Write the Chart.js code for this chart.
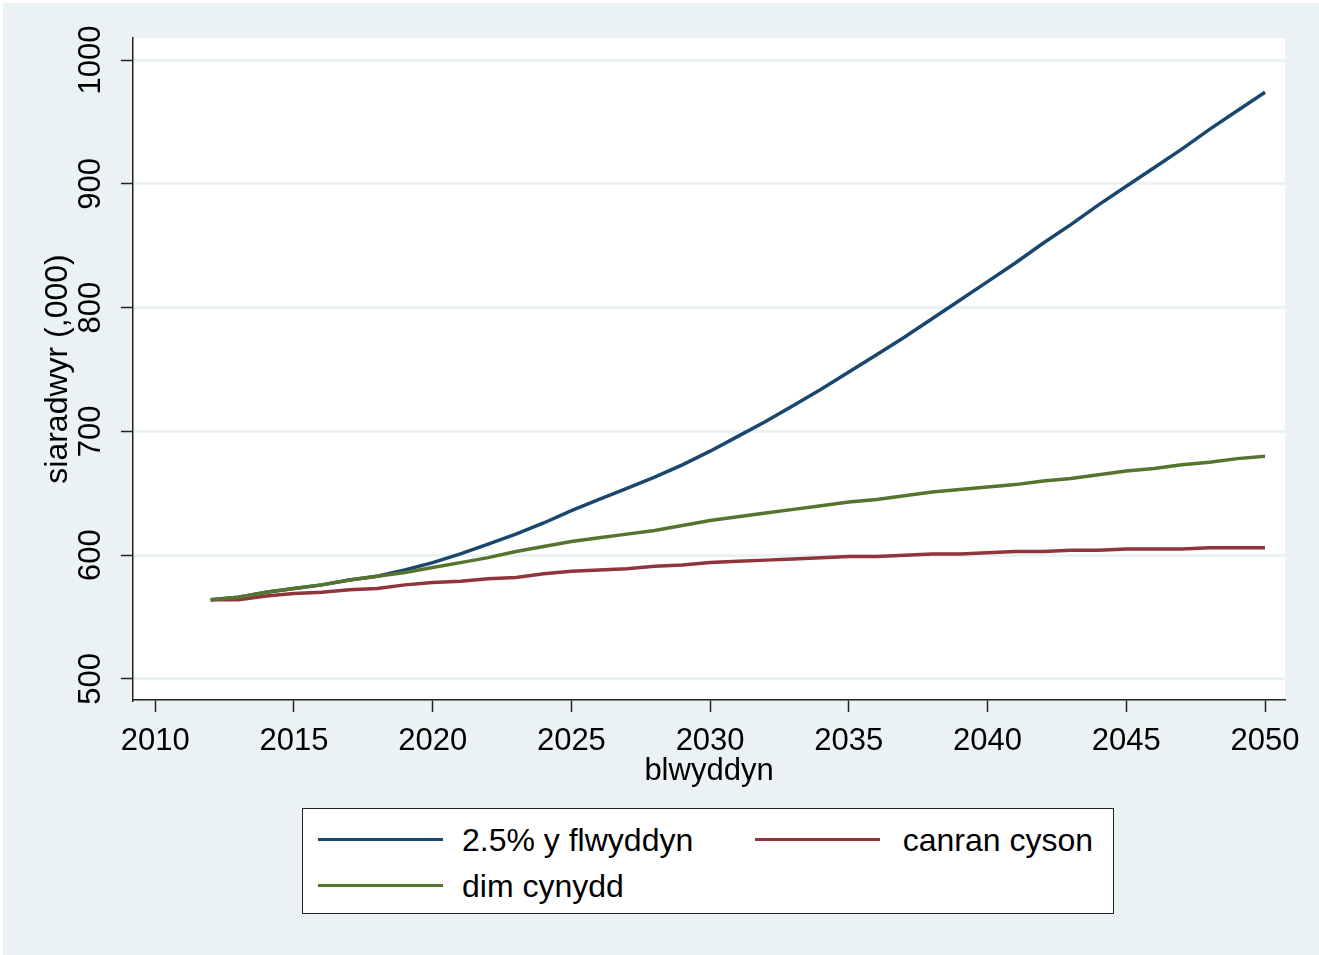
<!DOCTYPE html>
<html>
<head>
<meta charset="utf-8">
<script src="https://cdn.jsdelivr.net/npm/chart.js@4/dist/chart.umd.min.js"></script>
<style>
    html, body { margin: 0; padding: 0; background: #fff; }
    #wrap { position: relative; width: 1319px; height: 955px; }
    #bg { position: absolute; left: 3px; top: 3px; right: 0; bottom: 0; background: #eaf2f3; }
    canvas { position: absolute; left: 0; top: 0; }
    .legend {
        position: absolute; left: 302px; top: 808px; width: 810px; height: 104px;
        background: #fff; border: 1.5px solid #222;
        font-family: "Liberation Sans", Arial, sans-serif; font-size: 32px; color: #000;
    }
    .legend .sw { position: absolute; width: 125px; height: 3px; }
    .legend .lb { position: absolute; line-height: 1; white-space: nowrap; }
</style>
</head>
<body>
<div id="wrap">
    <div id="bg"></div>
    <canvas id="chart" width="1319" height="955"></canvas>
    <div class="legend">
        <div class="sw" style="left:15px; top:29px; background:#1a476f"></div>
        <div class="lb" style="left:159px; top:15px">2.5% y flwyddyn</div>
        <div class="sw" style="left:452px; top:29px; background:#90353b"></div>
        <div class="lb" style="right:20px; top:15px">canran cyson</div>
        <div class="sw" style="left:15px; top:75px; background:#55752f"></div>
        <div class="lb" style="left:159px; top:61px">dim cynydd</div>
    </div>
</div>
<script>
const years = [2012, 2013, 2014, 2015, 2016, 2017, 2018, 2019, 2020, 2021,
    2022, 2023, 2024, 2025, 2026, 2027, 2028, 2029, 2030, 2031,
    2032, 2033, 2034, 2035, 2036, 2037, 2038, 2039, 2040, 2041,
    2042, 2043, 2044, 2045, 2046, 2047, 2048, 2049, 2050];
const growth25 = [564, 566, 570, 573, 576, 580, 583, 588, 594, 601,
    609, 617, 626, 636, 645, 654, 663, 673, 684, 696,
    708, 721, 734, 748, 762, 776, 791, 806, 821, 836,
    852, 867, 883, 898, 913, 928, 944, 959, 974];
const constPct = [564, 564, 567, 569, 570, 572, 573, 576, 578, 579,
    581, 582, 585, 587, 588, 589, 591, 592, 594, 595,
    596, 597, 598, 599, 599, 600, 601, 601, 602, 603,
    603, 604, 604, 605, 605, 605, 606, 606, 606];
const noGrowth = [564, 566, 570, 573, 576, 580, 583, 586, 590, 594,
    598, 603, 607, 611, 614, 617, 620, 624, 628, 631,
    634, 637, 640, 643, 645, 648, 651, 653, 655, 657,
    660, 662, 665, 668, 670, 673, 675, 678, 680];
const xTicks = [2010, 2015, 2020, 2025, 2030, 2035, 2040, 2045, 2050];
const yTicks = [500, 600, 700, 800, 900, 1000];

const FONT = '"Liberation Sans", Arial, sans-serif';
const pts = arr => years.map((y, i) => ({ x: y, y: arr[i] }));

// white plot region + rotated y tick labels (Stata style)
const plotBg = {
    id: 'plotBg',
    beforeDraw(chart) {
        const a = chart.chartArea, ctx = chart.ctx;
        ctx.save();
        ctx.fillStyle = '#fff';
        ctx.fillRect(a.left, a.top, a.right - a.left, a.bottom - a.top);
        ctx.restore();
    },
    afterDraw(chart) {
        const ys = chart.scales.y, ctx = chart.ctx;
        ctx.save();
        ctx.font = '31px ' + FONT;
        ctx.fillStyle = '#000';
        ctx.textAlign = 'center';
        ctx.textBaseline = 'middle';
        yTicks.forEach(v => {
            ctx.save();
            ctx.translate(ys.right - 42, ys.getPixelForValue(v));
            ctx.rotate(-Math.PI / 2);
            ctx.fillText(String(v), 0, 0);
            ctx.restore();
        });
        ctx.restore();
    }
};

new Chart(document.getElementById('chart'), {
    type: 'line',
    data: {
        datasets: [
            { label: '2.5% y flwyddyn', data: pts(growth25), borderColor: '#1a476f', order: 3 },
            { label: 'canran cyson', data: pts(constPct), borderColor: '#90353b', order: 2 },
            { label: 'dim cynydd', data: pts(noGrowth), borderColor: '#55752f', order: 1 }
        ]
    },
    options: {
        responsive: false,
        animation: false,
        events: [],
        layout: { padding: { left: 42, top: 38, right: 34, bottom: 165 } },
        elements: {
            line: { borderWidth: 3.5, tension: 0, fill: false },
            point: { radius: 0 }
        },
        plugins: { legend: { display: false }, tooltip: { enabled: false } },
        scales: {
            x: {
                type: 'linear',
                min: 2009.2, max: 2050.72,
                afterBuildTicks: s => { s.ticks = xTicks.map(v => ({ value: v })); },
                afterFit: s => { s.height = 90; },
                grid: { drawOnChartArea: false, tickLength: 12, tickColor: '#222', tickWidth: 1.5 },
                border: { color: '#222', width: 1.5 },
                ticks: { font: { family: FONT, size: 31 }, color: '#000', padding: 11, maxRotation: 0,
                    callback: v => String(v) },
                title: { display: true, text: 'blwyddyn', font: { family: FONT, size: 31, lineHeight: 1.2 }, color: '#000', padding: 0 }
            },
            y: {
                type: 'linear',
                min: 483, max: 1017.8,
                afterBuildTicks: s => { s.ticks = yTicks.map(v => ({ value: v })); },
                afterFit: s => { s.width = 91; },
                grid: { color: '#eaf2f3', lineWidth: 3, tickLength: 12, tickColor: '#222', tickWidth: 1.5 },
                border: { color: '#222', width: 1.5 },
                ticks: { display: false },
                title: { display: true, text: 'siaradwyr (,000)', font: { family: FONT, size: 32, lineHeight: 1 }, color: '#000', padding: 0 }
            }
        }
    },
    plugins: [plotBg]
});
</script>
</body>
</html>
